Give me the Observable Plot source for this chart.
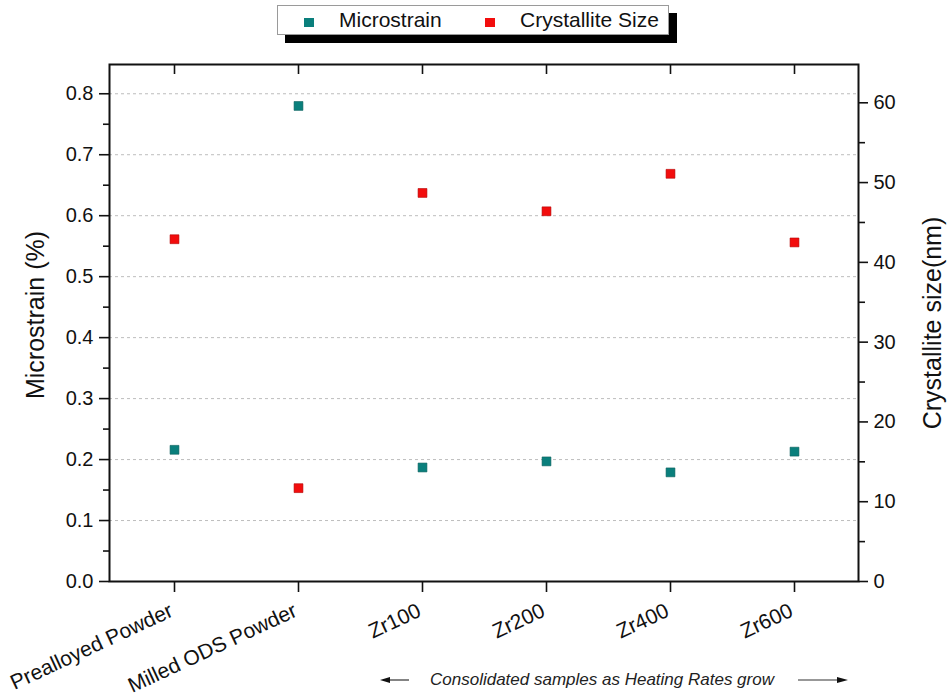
<!DOCTYPE html>
<html>
<head>
<meta charset="utf-8">
<script src="https://cdn.jsdelivr.net/npm/d3@7"></script>
<script src="https://cdn.jsdelivr.net/npm/@observablehq/plot@0.6"></script>
<style>
  html, body { margin: 0; padding: 0; background: #fff; }
  #wrap { position: relative; width: 949px; height: 695px; font-family: "Liberation Sans", Arial, sans-serif; }
  #legend { position: absolute; left: 277px; top: 5px; width: 390px; height: 28px; background: #fff; border: 1px solid #9a9a9a; box-shadow: 8px 8px 0 #000; font-size: 21px; color: #111; }
  #legend .item { position: absolute; top: 2px; line-height: 24px; white-space: nowrap; }
  #legend .sw { position: absolute; width: 10px; height: 9px; top: 12px; }
  #caption { position: absolute; left: 370px; top: 666px; width: 490px; height: 28px; }
  #caption span { position: absolute; left: 60px; top: 4px; font-style: italic; font-size: 17px; color: #222; white-space: nowrap; }
</style>
</head>
<body>
<div id="wrap">
  <div id="chart"></div>
  <div id="legend"></div>
  <div id="caption"></div>
</div>
<script>
// Samples along the x axis
const categories = ["Prealloyed Powder", "Milled ODS Powder", "Zr100", "Zr200", "Zr400", "Zr600"];
// Microstrain (%), left axis
const microstrain = [0.216, 0.780, 0.187, 0.197, 0.179, 0.213];
// Crystallite size (nm), right axis
const crystalliteSize = [42.9, 11.7, 48.7, 46.4, 51.1, 42.5];
// Axis ticks
const leftTicks = [0, 0.1, 0.2, 0.3, 0.4, 0.5, 0.6, 0.7, 0.8];
const leftMinor = [0.05, 0.15, 0.25, 0.35, 0.45, 0.55, 0.65, 0.75];
const rightTicks = [0, 10, 20, 30, 40, 50, 60];
const rightMinor = [5, 15, 25, 35, 45, 55];

const seriesNames = ["Microstrain", "Crystallite Size"];
const colors = ["#0a7f7c", "#f20d0d"];
const strokes = ["#0b5f5c", "#b40000"];

// Axis ranges; the right axis is mapped onto the left one
const leftMax = 0.848;
const rightMax = 64.8;
const k = leftMax / rightMax;

const W = 949, H = 695;
const mTop = 64, mBottom = 114, mLeft = 109, mRight = 91;
const plotH = H - mTop - mBottom;

const rows = categories.map((c, i) => ({cat: c, ms: microstrain[i], cs: crystalliteSize[i]}));

const font = "'Liberation Sans', Arial, sans-serif";

const chart = Plot.plot({
  width: W,
  height: H,
  marginTop: mTop,
  marginBottom: mBottom,
  marginLeft: mLeft,
  marginRight: mRight,
  style: {fontFamily: font, fontSize: "20px", color: "#111", background: "transparent", overflow: "visible"},
  x: {type: "point", domain: categories, padding: 0.5, axis: null},
  y: {domain: [0, leftMax], axis: null},
  marks: [
    // dashed grid at the left major ticks
    Plot.gridY(leftTicks.filter(t => t > 0), {stroke: "#bdbdbd", strokeOpacity: 1, strokeDasharray: "3,3", strokeWidth: 1}),
    // left axis
    Plot.axisY(leftTicks, {anchor: "left", tickSize: 10, tickPadding: 6, strokeWidth: 1.6, tickFormat: d => d.toFixed(1), fontSize: 20, label: null}),
    Plot.axisY(leftMinor, {anchor: "left", tickSize: 6, strokeWidth: 1.6, tickFormat: () => "", label: null}),
    // right axis (crystallite size)
    Plot.axisY(rightTicks.map(v => v * k), {anchor: "right", tickSize: 9, tickPadding: 6, strokeWidth: 1.6, tickFormat: d => String(Math.round(d / k)), fontSize: 20, label: null}),
    Plot.axisY(rightMinor.map(v => v * k), {anchor: "right", tickSize: 6, strokeWidth: 1.6, tickFormat: () => "", label: null}),
    // bottom ticks pointing out, top ticks pointing in
    Plot.axisX(categories, {anchor: "bottom", tickSize: 11, strokeWidth: 1.6, tickFormat: () => "", label: null}),
    Plot.tickX(categories, {x: d => d, insetBottom: plotH - 10, stroke: "#111", strokeWidth: 1.6}),
    // rotated category labels
    Plot.text(categories, {x: d => d, frameAnchor: "bottom", dx: -3, dy: 28, rotate: -25, textAnchor: "end", lineAnchor: "middle", fontSize: 21, fill: "#111"}),
    // axis titles
    Plot.text(["Microstrain (%)"], {frameAnchor: "left", dx: -74, dy: -8, rotate: -90, textAnchor: "middle", lineAnchor: "middle", fontSize: 25, fill: "#111"}),
    Plot.text(["Crystallite size(nm)"], {frameAnchor: "right", dx: 74, rotate: -90, textAnchor: "middle", lineAnchor: "middle", fontSize: 25, fill: "#111"}),
    Plot.frame({stroke: "#111", strokeWidth: 2}),
    // data points
    Plot.dot(rows, {x: "cat", y: "ms", symbol: "square", r: 5, fill: colors[0], stroke: strokes[0], strokeWidth: 0.6}),
    Plot.dot(rows, {x: "cat", y: d => d.cs * k, symbol: "square", r: 5, fill: colors[1], stroke: strokes[1], strokeWidth: 0.6})
  ]
});
document.getElementById("chart").appendChild(chart);

// Legend box with drop shadow
const legend = document.getElementById("legend");
const legendPos = [{sw: 26, tx: 61}, {sw: 207, tx: 242}];
seriesNames.forEach((name, i) => {
  const sw = document.createElement("div");
  sw.className = "sw";
  sw.style.left = legendPos[i].sw + "px";
  sw.style.background = colors[i];
  legend.appendChild(sw);
  const t = document.createElement("div");
  t.className = "item";
  t.style.left = legendPos[i].tx + "px";
  t.textContent = name;
  legend.appendChild(t);
});

// Caption with arrows on both sides
const cap = document.getElementById("caption");
cap.innerHTML = `
<svg width="490" height="28" style="position:absolute;left:0;top:0">
  <line x1="16" y1="14" x2="39" y2="14" stroke="#333" stroke-width="1.2"/>
  <path d="M10,14 L20,11 L20,17 Z" fill="#111"/>
  <line x1="428" y1="14" x2="470" y2="14" stroke="#333" stroke-width="1.2"/>
  <path d="M478,14 L467,11 L467,17 Z" fill="#111"/>
</svg>
<span>Consolidated samples as Heating Rates grow</span>`;
</script>
</body>
</html>
